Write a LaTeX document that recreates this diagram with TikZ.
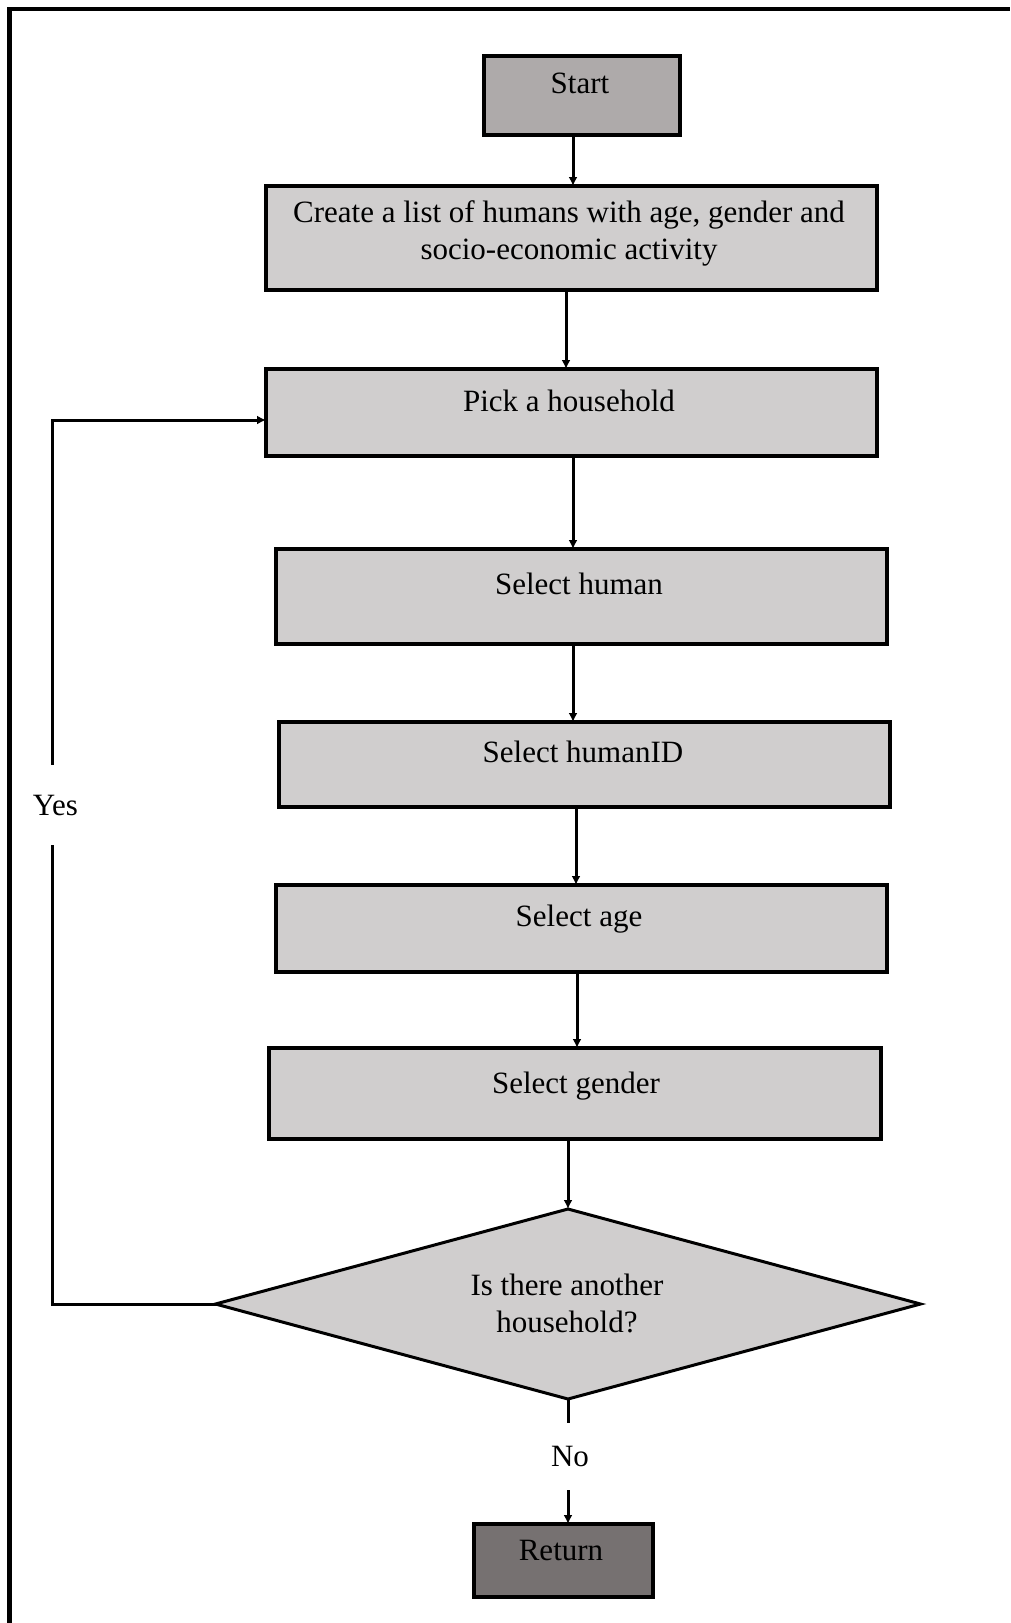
\documentclass[tikz,border=0pt]{standalone}
\usepackage{fontspec}
\setmainfont{Liberation Serif}
\usetikzlibrary{shapes.geometric,arrows.meta}
\definecolor{boxgray}{HTML}{D0CECE}
\definecolor{startgray}{HTML}{AEAAAA}
\definecolor{retgray}{HTML}{767171}
\tikzset{
  box/.style={draw=black, line width=3.2pt, fill=boxgray, inner sep=0pt, outer sep=0pt},
  txt/.style={inner sep=0pt, anchor=base, font=\fontsize{31}{37}\selectfont},
  conn/.style={draw=black, line width=3pt},
  arr/.style={conn, -{Latex[length=9pt,width=9pt]}},
  lbl/.style={inner sep=0pt, font=\fontsize{31}{37}\selectfont},
}
\begin{document}
\begin{tikzpicture}[x=1pt,y=-1pt]
\useasboundingbox (0,0) rectangle (1010,1623);
% outer frame (left and top edges)
\draw[line width=4.5pt] (9.7,1623) -- (9.7,9) -- (1010,9);

% boxes
\node[box, fill=startgray, minimum width=196, minimum height=79] (start) at (582,95.5) {};
\node[box, minimum width=611, minimum height=104] (create) at (571.5,238) {};
\node[box, minimum width=611, minimum height=87] (pick) at (571.5,412.5) {};
\node[box, minimum width=611, minimum height=95] (human) at (581.5,596.5) {};
\node[box, minimum width=611, minimum height=85] (hid) at (584.5,764.5) {};
\node[box, minimum width=611, minimum height=87] (age) at (581.5,928.5) {};
\node[box, minimum width=612, minimum height=91] (gender) at (575,1093.5) {};
\node[draw=black, line width=3pt, fill=boxgray, shape=diamond, inner sep=0pt, outer sep=0pt,
      minimum width=705, minimum height=190] (dec) at (568,1304) {};
\node[box, fill=retgray, minimum width=179, minimum height=73] (ret) at (563.5,1560.5) {};

% texts
\node[txt] (tstart) at (580,93) {Start};
\node[txt] (tcreate1) at (569,222) {Create a list of humans with age, gender and};
\node[txt] (tcreate2) at (569,259) {socio-economic activity};
\node[txt] (tpick) at (569,411) {Pick a household};
\node[txt] (thuman) at (579,594) {Select human};
\node[txt] (thid) at (583,762) {Select humanID};
\node[txt] (tage) at (579,926) {Select age};
\node[txt] (tgender) at (576,1093) {Select gender};
\node[txt] (tdec1) at (567,1295) {Is there another};
\node[txt] (tdec2) at (567,1332) {household?};
\node[txt] (tret) at (561,1560) {Return};

% labels on connectors
\node[lbl, minimum height=67] (no) at (570,1456.5) {No};
\node[lbl, minimum height=80] (yes) at (55.5,805) {Yes};

% connectors
\draw[arr] ([xshift=-9pt]start.south) -- ([xshift=1.5pt]create.north);
\draw[arr] ([xshift=-5.5pt]create.south) -- ([xshift=-5.5pt]pick.north);
\draw[arr] ([xshift=1.5pt]pick.south) -- ([xshift=-8.5pt]human.north);
\draw[arr] ([xshift=-8.5pt]human.south) -- ([xshift=-11.5pt]hid.north);
\draw[arr] ([xshift=-8.5pt]hid.south) -- ([xshift=-5.5pt]age.north);
\draw[arr] ([xshift=-4.5pt]age.south) -- ([xshift=2pt]gender.north);
\draw[arr] (gender.south -| dec.north) -- (dec.north);
\draw[conn] (dec.south) -- (dec.south |- no.north);
\draw[arr] (no.south -| dec.south) -- (ret.north -| dec.south);

% Yes loop
\coordinate (c1) at (52.5,1304);
\coordinate (c2) at (52.5,420);
\draw[conn] (dec.west) -- (c1) -- (c1 |- yes.south);
\draw[arr] (c1 |- yes.north) -- (c2) -- (pick.west |- c2);
\end{tikzpicture}
\end{document}
